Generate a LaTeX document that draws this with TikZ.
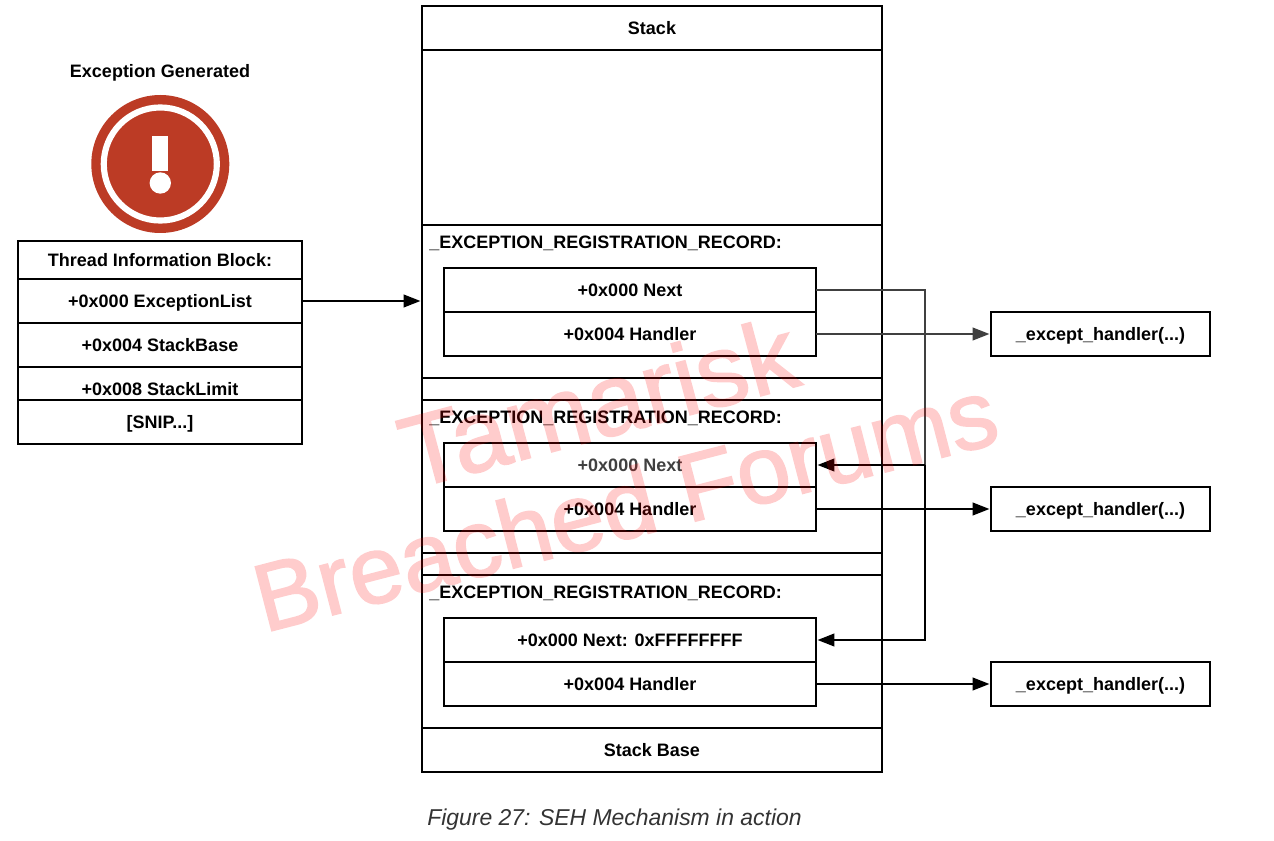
\documentclass[tikz,border=0pt]{standalone}
\usepackage{fontspec}
\setmainfont{Liberation Sans}
\newfontfamily\markfont[FakeBold=1.6]{Liberation Sans}
\usetikzlibrary{arrows.meta}
\definecolor{alertred}{HTML}{BC3B25}

\begin{document}
\begin{tikzpicture}[x=0.75pt,y=-0.75pt,
  cellbox/.style={draw=black,line width=1.5pt,inner sep=0pt,outer sep=0pt,font=\bfseries\fontsize{13.5}{16}\selectfont,text height=13pt,text depth=3pt},
  tibcell/.style={cellbox,minimum width=213pt,minimum height=33pt},
  stackcell/.style={cellbox,minimum width=345pt,minimum height=33pt},
  recordbox/.style={cellbox,line width=1.3pt,minimum width=345pt,minimum height=114.75pt},
  fieldcell/.style={cellbox,line width=1.3pt,minimum width=279pt,minimum height=33pt},
  handlerbox/.style={cellbox,line width=1.3pt,minimum width=164.25pt,minimum height=33pt},
  plainlabel/.style={inner sep=0pt,font=\bfseries\fontsize{13.5}{16}\selectfont,text height=13pt,text depth=3pt},
  linkarrow/.style={-{Triangle[length=12.5pt,width=9.5pt]},line width=1.3pt,shorten >=1.2pt},
  watermark/.style={text=red,inner sep=0pt,font=\markfont\fontsize{72}{72}\selectfont}]
\useasboundingbox (0,0) rectangle (1274,841);

\node[plainlabel] (alerttitle) at (160,71) {Exception Generated};
\fill[alertred] (160.3,164) circle (51.75pt);
\draw[white,line width=4.6pt] (160.3,164) circle (42.4pt);
\fill[white] (152,136) rectangle (168,171);
\fill[white] (160.3,183) circle (8pt);

\node[tibcell,minimum height=28.5pt] (tibtitle) at (160,260) {Thread Information Block:};
\node[tibcell] (tiblist) at (160,301) {+0x000 ExceptionList};
\node[tibcell] (tibbase) at (160,345) {+0x004 StackBase};
\node[tibcell] (tiblimit) at (160,389) {+0x008 StackLimit};
\node[tibcell,fill=white] (tibsnip) at (160,422) {[SNIP...]};

\node[cellbox,minimum width=345pt,minimum height=574.5pt] (stack) at (652,389) {};
\node[stackcell] (stacktop) at (652,28) {Stack};
\node[recordbox] (record1) at (652,301.5) {};
\node[recordbox] (record2) at (652,476.5) {};
\node[recordbox] (record3) at (652,651.5) {};
\node[stackcell] (stackbase) at (652,750) {Stack Base};

\node[plainlabel,anchor=west] (title1) at (429,242) {\_EXCEPTION\_REGISTRATION\_RECORD:};
\node[plainlabel,anchor=west] (title2) at (429,417) {\_EXCEPTION\_REGISTRATION\_RECORD:};
\node[plainlabel,anchor=west] (title3) at (429,592) {\_EXCEPTION\_REGISTRATION\_RECORD:};

\node[fieldcell] (next1) at (630,290) {+0x000 Next};
\node[fieldcell] (handler1) at (630,334) {+0x004 Handler};
\node[fieldcell,text=black!75] (next2) at (630,465) {+0x000 Next};
\node[fieldcell] (handler2) at (630,509) {+0x004 Handler};
\node[fieldcell] (next3) at (630,640) {+0x000 Next: 0xFFFFFFFF};
\node[fieldcell] (handler3) at (630,684) {+0x004 Handler};

\node[handlerbox] (except1) at (1100.5,334) {\_except\_handler(...)};
\node[handlerbox] (except2) at (1100.5,509) {\_except\_handler(...)};
\node[handlerbox] (except3) at (1100.5,684) {\_except\_handler(...)};

\coordinate (busmid) at (925,465);
\draw[linkarrow] (tiblist.east) -- (tiblist.east -| record1.west);
\draw[line width=1.3pt,black!75] (next1.east) -| (busmid);
\draw[linkarrow] (busmid) -- (next2.east);
\draw[linkarrow] (busmid) |- (next3.east);
\draw[linkarrow,black!75] (handler1.east) -- (except1.west);
\draw[linkarrow] (handler2.east) -- (except2.west);
\draw[linkarrow] (handler3.east) -- (except3.west);

\node[text=black!80,inner sep=0pt,font=\itshape\fontsize{17.2}{21}\selectfont] (caption) at (614.5,820) {Figure 27: SEH Mechanism in action};

\begin{scope}[transparency group,opacity=0.2]
\node[watermark,font=\markfont\fontsize{76}{76}\selectfont,rotate=15] (mark1) at (598,402) {Tamarisk};
\node[watermark,rotate=14.5] (mark2) at (625,504) {Breached Forums};
\end{scope}
\end{tikzpicture}
\end{document}
